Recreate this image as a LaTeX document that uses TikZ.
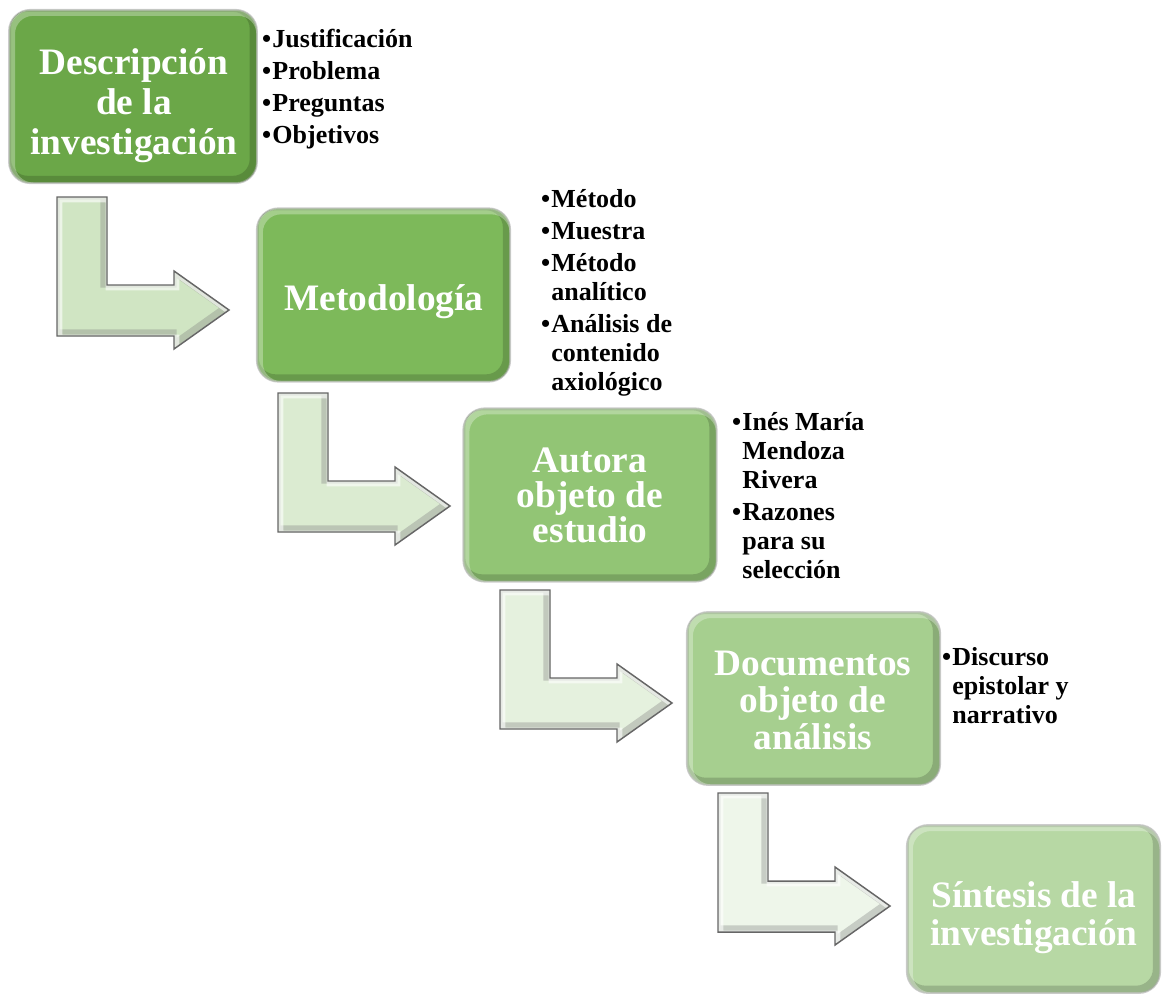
\documentclass[tikz,border=0pt]{standalone}
\usepackage{fontspec}
\setmainfont{Liberation Serif}

% stage fills, darkest first
\definecolor{stageA}{HTML}{6BA748}
\definecolor{stageB}{HTML}{7DB95A}
\definecolor{stageC}{HTML}{92C575}
\definecolor{stageD}{HTML}{A6CF8F}
\definecolor{stageE}{HTML}{B7D8A4}
% bent arrow fills
\definecolor{arrA}{HTML}{D0E5C3}
\definecolor{arrB}{HTML}{DBEBD1}
\definecolor{arrC}{HTML}{E5F1DE}
\definecolor{arrD}{HTML}{EEF6EA}

\tikzset{
  stage/.style={rounded corners=16pt, fill=#1, draw=gray!40, line width=1.4pt,
    inner sep=0pt, outer sep=0pt, minimum width=190pt, minimum height=130pt},
  stagetext/.style={text=white, align=center, inner sep=0pt,
    font=\bfseries\fontsize{28}{#1}\selectfont},
  itemlist/.style={anchor=north west, inner sep=0pt, outer sep=0pt, align=left,
    font=\bfseries\fontsize{19.5}{#1}\selectfont}
}
% fixed top and bottom of a text block
\newcommand\topstrut{\rule{0pt}{0.81em}}
\newcommand\botstrut{\rule[-0.35em]{0pt}{0.35em}}
\newcommand\liststrut{\rule{0pt}{16pt}}
\newcommand\bul{\textbullet\hspace{1pt}}
\newcommand\ind{\hphantom{\textbullet\hspace{1pt}}}

% L-shaped arrow, drawn in pixel units from its upper-left corner
\def\arrowpath{(0,0) -- (50,0) -- (50,88) -- (117,88) -- (117,74) -- (172,113)
  -- (117,152) -- (117,139) -- (0,139) -- cycle}

\newcommand\bentarrow[3]{%
  \begin{scope}[shift={(#1,#2)}]
    \fill[#3] \arrowpath;
    \begin{scope}
      \clip \arrowpath;
      \draw[line width=7pt, #3!65!gray, line join=miter, shift={(-1.5pt,1.5pt)}] \arrowpath;
      \draw[line width=5pt, white, opacity=.6, line join=miter, shift={(1.5pt,-1.5pt)}] \arrowpath;
    \end{scope}
    \draw[line width=1.1pt, black!60, line join=miter] \arrowpath;
  \end{scope}}

% inner bevel of a stage box
\newcommand\stagebevel[2]{%
  \begin{scope}
    \clip[rounded corners=16pt] (#1.south west) rectangle (#1.north east);
    \draw[line width=7pt, #2!70!black, opacity=.55, rounded corners=16pt]
      ([shift={(-2pt,2pt)}]#1.south west) rectangle ([shift={(-2pt,2pt)}]#1.north east);
    \draw[line width=5pt, white, opacity=.3, rounded corners=16pt]
      ([shift={(2pt,-2pt)}]#1.south west) rectangle ([shift={(2pt,-2pt)}]#1.north east);
  \end{scope}}

\begin{document}
% lines keep their set spacing even when accents and descenders come close
\setlength{\lineskiplimit}{-40pt}
\begin{tikzpicture}[x=0.75pt, y=-0.75pt]
\useasboundingbox (0,0) rectangle (1162,996);

% connecting arrows
\bentarrow{57}{197}{arrA}
\bentarrow{278}{393}{arrB}
\bentarrow{500}{590}{arrC}
\bentarrow{718}{793}{arrD}

% stages
\node[stage=stageA, minimum width=186pt] (b1) at (133,96.5) {};
\stagebevel{b1}{stageA}
\node[stagetext=30pt] (b1t) at (134,106) {\topstrut Descripción\\de la\\investigación\botstrut};

\node[stage=stageB] (b2) at (383.5,295) {};
\stagebevel{b2}{stageB}
\node[stagetext=30pt] (b2t) at (384,302) {\topstrut Metodología\botstrut};

\node[stage=stageC] (b3) at (590,495) {};
\stagebevel{b3}{stageC}
\node[stagetext=26.25pt] (b3t) at (590,499) {\topstrut Autora\\objeto de\\estudio\botstrut};

\node[stage=stageD, minimum height=129.75pt] (b4) at (813.5,698.5) {};
\stagebevel{b4}{stageD}
\node[stagetext=27.75pt] (b4t) at (813,704) {\topstrut Documentos\\objeto de\\análisis\botstrut};

\node[stage=stageE, minimum height=126pt] (b5) at (1033.5,909) {};
\stagebevel{b5}{stageE}
\node[stagetext=28.5pt] (b5t) at (1034,918) {\topstrut Síntesis de la\\investigación\botstrut};

% bullet lists
\node[itemlist=21.4pt] (l1) at (262,25.7) {\liststrut\bul Justificación\\[2.6pt]
\bul Problema\\[2.6pt]
\bul Preguntas\\[2.6pt]
\bul Objetivos};

\node[itemlist=21.75pt] (l2) at (541,185.7) {\liststrut\bul Método\\[2.4pt]
\bul Muestra\\[2.4pt]
\bul Método\\
\ind analítico\\[2.4pt]
\bul Análisis de\\
\ind contenido\\
\ind axiológico};

\node[itemlist=21.75pt] (l3) at (732,408.7) {\liststrut\bul Inés María\\
\ind Mendoza\\
\ind Rivera\\[2.4pt]
\bul Razones\\
\ind para su\\
\ind selección};

\node[itemlist=21.75pt] (l4) at (942,643.7) {\liststrut\bul Discurso\\
\ind epistolar y\\
\ind narrativo};
\end{tikzpicture}
\end{document}
